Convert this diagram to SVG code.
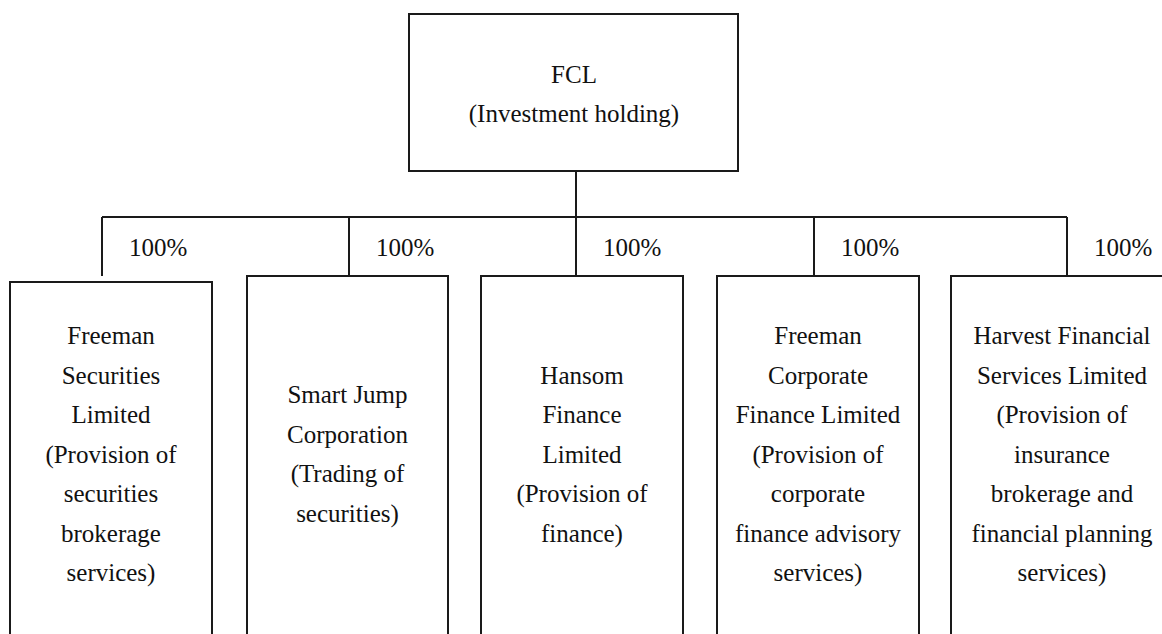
<svg xmlns="http://www.w3.org/2000/svg" width="1162" height="634" viewBox="0 0 1162 634">
  <style>
    .box { fill: #ffffff; stroke: #1a1a1a; stroke-width: 2; }
    .link { fill: none; stroke: #1a1a1a; stroke-width: 2; }
    text { font-family: "Liberation Serif", "DejaVu Serif", serif; font-size: 25px; fill: #111111; }
    .c { text-anchor: middle; }
  </style>
  <rect width="1162" height="634" fill="#ffffff"/>

  <!-- ownership connectors -->
  <g id="connectors">
    <path class="link" d="M576 171 V217"/>
    <path class="link" d="M102 217 H1067"/>
    <path class="link" d="M102 217 V276"/>
    <path class="link" d="M349 217 V276"/>
    <path class="link" d="M576 217 V276"/>
    <path class="link" d="M814 217 V276"/>
    <path class="link" d="M1067 217 V276"/>
    <text x="129" y="256">100%</text>
    <text x="376" y="256">100%</text>
    <text x="603" y="256">100%</text>
    <text x="841" y="256">100%</text>
    <text x="1094" y="256">100%</text>
  </g>

  <!-- parent company -->
  <g id="fcl">
    <rect class="box" x="409" y="14" width="329" height="157"/>
    <text class="c" x="574" y="83">FCL</text>
    <text class="c" x="574" y="122">(Investment holding)</text>
  </g>

  <!-- subsidiaries -->
  <g id="freeman-securities">
    <rect class="box" x="10" y="282" width="202" height="420"/>
    <text class="c" x="111" y="344">Freeman</text>
    <text class="c" x="111" y="383.5">Securities</text>
    <text class="c" x="111" y="423">Limited</text>
    <text class="c" x="111" y="462.5">(Provision of</text>
    <text class="c" x="111" y="502">securities</text>
    <text class="c" x="111" y="541.5">brokerage</text>
    <text class="c" x="111" y="581">services)</text>
  </g>

  <g id="smart-jump">
    <rect class="box" x="247" y="276" width="201" height="420"/>
    <text class="c" x="347.5" y="403">Smart Jump</text>
    <text class="c" x="347.5" y="442.5">Corporation</text>
    <text class="c" x="347.5" y="482">(Trading of</text>
    <text class="c" x="347.5" y="521.5">securities)</text>
  </g>

  <g id="hansom-finance">
    <rect class="box" x="481" y="276" width="202" height="420"/>
    <text class="c" x="582" y="383.5">Hansom</text>
    <text class="c" x="582" y="423">Finance</text>
    <text class="c" x="582" y="462.5">Limited</text>
    <text class="c" x="582" y="502">(Provision of</text>
    <text class="c" x="582" y="541.5">finance)</text>
  </g>

  <g id="freeman-corporate-finance">
    <rect class="box" x="717" y="276" width="202" height="420"/>
    <text class="c" x="818" y="344">Freeman</text>
    <text class="c" x="818" y="383.5">Corporate</text>
    <text class="c" x="818" y="423">Finance Limited</text>
    <text class="c" x="818" y="462.5">(Provision of</text>
    <text class="c" x="818" y="502">corporate</text>
    <text class="c" x="818" y="541.5">finance advisory</text>
    <text class="c" x="818" y="581">services)</text>
  </g>

  <g id="harvest-financial">
    <rect class="box" x="951" y="276" width="222" height="420"/>
    <text class="c" x="1062" y="344">Harvest Financial</text>
    <text class="c" x="1062" y="383.5">Services Limited</text>
    <text class="c" x="1062" y="423">(Provision of</text>
    <text class="c" x="1062" y="462.5">insurance</text>
    <text class="c" x="1062" y="502">brokerage and</text>
    <text class="c" x="1062" y="541.5">financial planning</text>
    <text class="c" x="1062" y="581">services)</text>
  </g>
</svg>
